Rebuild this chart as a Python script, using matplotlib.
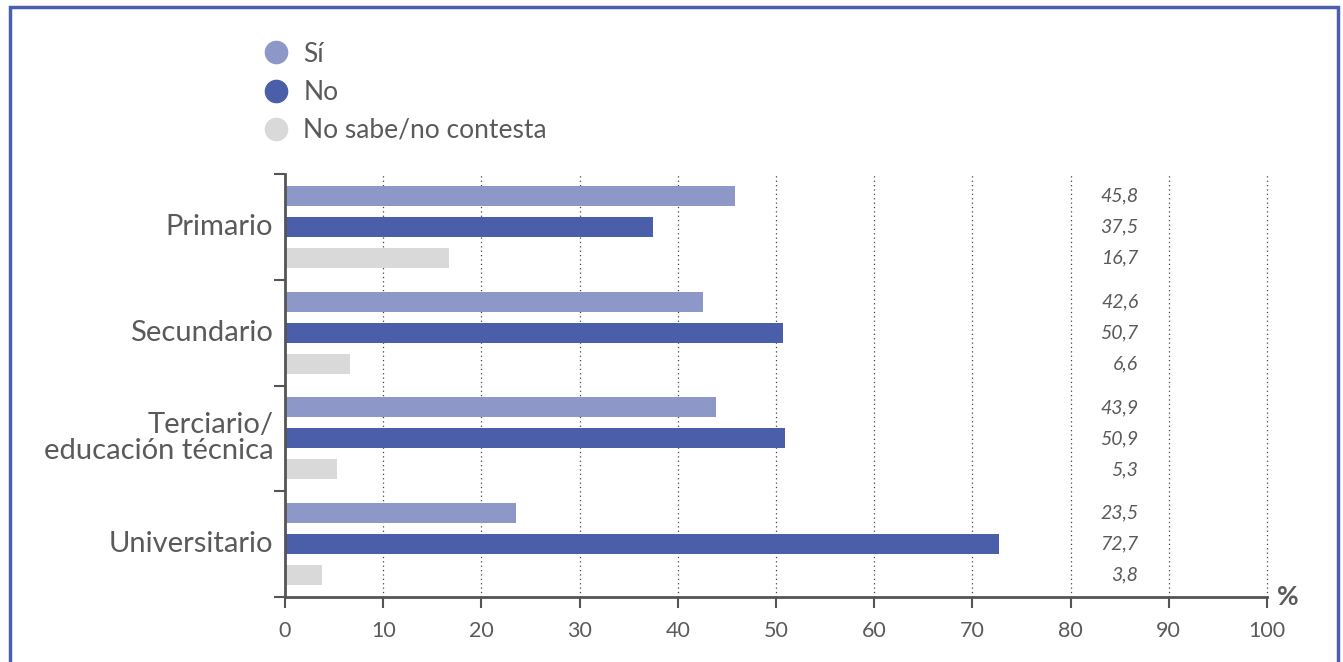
import matplotlib
matplotlib.use("Agg")
import matplotlib.pyplot as plt
from matplotlib.lines import Line2D
from matplotlib.patches import Rectangle
from matplotlib.transforms import blended_transform_factory
import numpy as np

plt.rcParams["font.family"] = ["Lato", "DejaVu Sans"]

# Survey answers by education level (%)
levels = ["Primario", "Secundario", "Terciario/\neducación técnica", "Universitario"]
series_names = ["Sí", "No", "No sabe/no contesta"]
si = [45.8, 42.6, 43.9, 23.5]
no = [37.5, 50.7, 50.9, 72.7]
nsnc = [16.7, 6.6, 5.3, 3.8]
x_ticks = [0, 10, 20, 30, 40, 50, 60, 70, 80, 90, 100]

COLORS = ["#8e98c8", "#4b5eaa", "#d9d9d9"]
TEXT = "#5a5a5a"
AXIS = "#555555"
FRAME = "#4a5fae"

fig = plt.figure(figsize=(13.43, 6.62), dpi=100)
ax = fig.add_axes([285 / 1343, 65 / 662, 982 / 1343, 423 / 662])

y = np.arange(len(levels))
offsets = [-0.293, 0.0, 0.293]
bar_h = 0.19
for vals, off, col in zip([si, no, nsnc], offsets, COLORS):
    ax.barh(y + off, vals, height=bar_h, color=col, zorder=2)
    for yy, v in zip(y + off, vals):
        ax.text(86.9, yy, f"{v:.1f}".replace(".", ","), ha="right", va="center",
                fontsize=14, style="italic", color=TEXT)

ax.set_xlim(0, 100)
ax.set_ylim(len(levels) - 0.5, -0.5)

# dotted verticals
for xt in x_ticks[1:]:
    ax.axvline(xt, color="#444444", lw=0.9, ls=(0, (1, 2.5)), zorder=1,
               clip_on=False)

ax.set_xticks(x_ticks)
ax.set_xticklabels([str(t) for t in x_ticks])
ax.set_yticks(np.arange(-0.5, len(levels)))
ax.set_yticklabels([])
ax.tick_params(axis="both", direction="out", length=8, width=1.5, color=AXIS)
ax.tick_params(axis="x", labelsize=15.5, labelcolor=TEXT, pad=9)

for s in ["top", "right"]:
    ax.spines[s].set_visible(False)
for s in ["left", "bottom"]:
    ax.spines[s].set_color(AXIS)
    ax.spines[s].set_linewidth(2)

trans = blended_transform_factory(ax.transAxes, ax.transData)
for yy, name in zip(y, levels):
    ax.text(-0.012, yy, name, transform=trans, ha="right", va="center",
            fontsize=21, color=TEXT, linespacing=1.0)

ax.text(1.010, 0.0, "%", transform=ax.transAxes, ha="left", va="center",
        fontsize=19, fontweight="bold", color=TEXT)

handles = [Line2D([], [], marker="o", ls="none", markersize=16,
                  markerfacecolor=c, markeredgecolor=c) for c in COLORS]
fig.legend(handles, series_names, loc="upper left",
           bbox_to_anchor=(252 / 1343, 1 - 31 / 662), frameon=False,
           fontsize=19, labelcolor=TEXT, handletextpad=0.55,
           labelspacing=0.5, handlelength=1.0, borderaxespad=0)

fig.add_artist(Rectangle((10 / 1343, -0.1), 1327.5 / 1343, 1.1 - 6.5 / 662,
                         transform=fig.transFigure, fill=False,
                         edgecolor=FRAME, lw=2.5, clip_on=False))

fig.savefig("out.png", dpi=100)
